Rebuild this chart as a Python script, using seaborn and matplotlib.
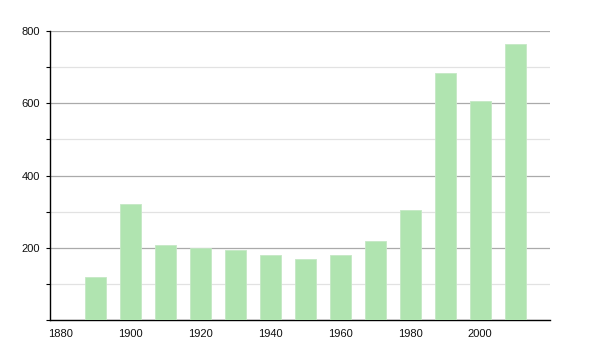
import pandas as pd
import matplotlib.pyplot as plt
import seaborn as sns
from matplotlib.ticker import MultipleLocator

# population by census year
years = [1890, 1900, 1910, 1920, 1930, 1940, 1950, 1960, 1970, 1980, 1990, 2000, 2010]
values = [118, 321, 207, 199, 194, 180, 169, 180, 219, 304, 683, 606, 764]
x_ticks = [1880, 1900, 1920, 1940, 1960, 1980, 2000]
y_ticks = [200, 400, 600, 800]

df = pd.DataFrame({'year': years, 'value': values})

sns.set_style('white')
plt.rcParams['font.family'] = ['Liberation Sans', 'DejaVu Sans']

fig = plt.figure(figsize=(6, 3.5), dpi=100)
ax = fig.add_axes([50 / 600, 1 - 320 / 350, 500 / 600, 289 / 350])

sns.barplot(data=df, x='year', y='value', native_scale=True, width=0.6,
            color='#b0e4b0', saturation=1, edgecolor='#c4e8c4', linewidth=0.6,
            ax=ax, zorder=3)

ax.set_xlim(1877, 2020)
ax.set_ylim(0, 800)
ax.set_xticks(x_ticks)
ax.set_yticks(y_ticks)
ax.yaxis.set_minor_locator(MultipleLocator(100))
ax.grid(axis='y', which='major', color='#aaaaaa', linewidth=0.9, zorder=0)
ax.grid(axis='y', which='minor', color='#e2e2e2', linewidth=0.9, zorder=0)
ax.set_axisbelow(True)

for s in ['top', 'right']:
    ax.spines[s].set_visible(False)
ax.spines['left'].set_color('black')
ax.spines['bottom'].set_color('black')
ax.spines['left'].set_linewidth(1)
ax.spines['bottom'].set_linewidth(1)

ax.tick_params(axis='y', which='both', left=True, length=3, width=0.8,
               color='black', labelcolor='#111111', labelsize=8, pad=4)
ax.tick_params(axis='x', bottom=False, labelcolor='#111111', labelsize=8, pad=3)
ax.set_xlabel('')
ax.set_ylabel('')

plt.savefig('out.png', dpi=100)
